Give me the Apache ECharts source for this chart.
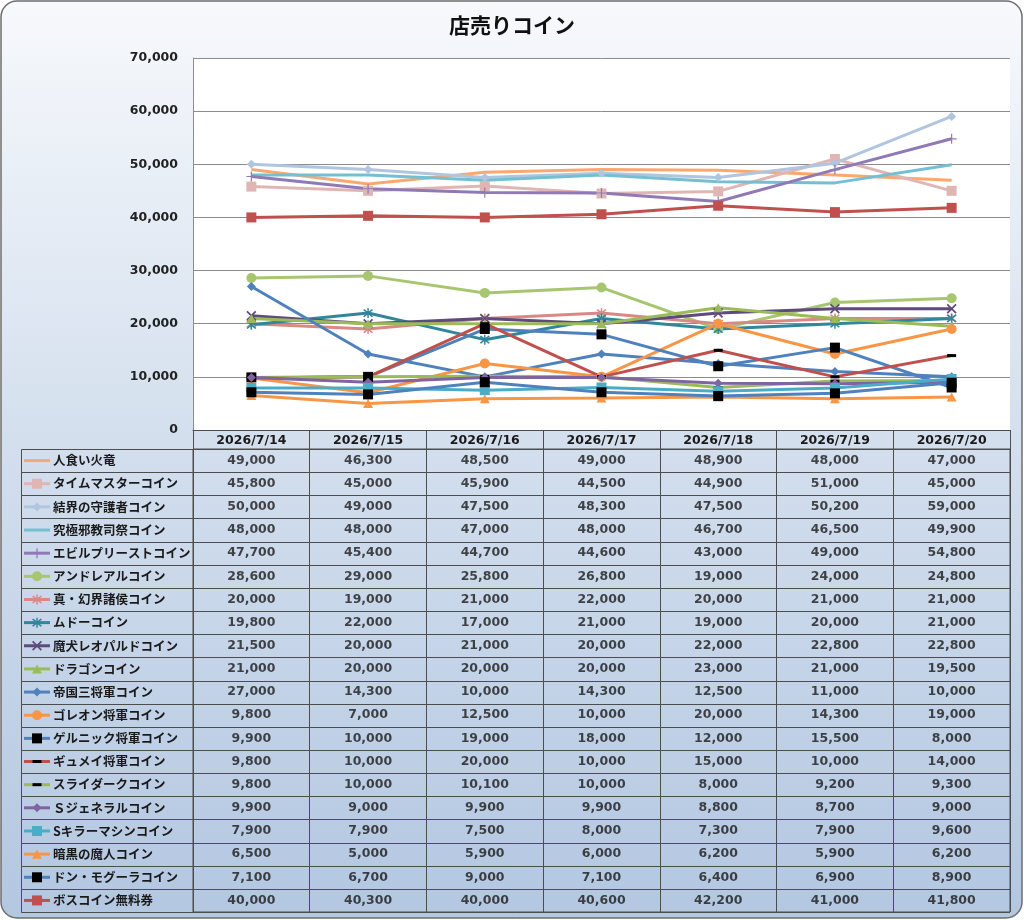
<!DOCTYPE html>
<html>
<head>
<meta charset="utf-8">
<title>店売りコイン</title>
<script src="https://cdn.jsdelivr.net/npm/echarts@6/dist/echarts.min.js"></script>
<style>
  html, body { margin: 0; padding: 0; background: #fff; }
  #main { width: 1024px; height: 920px; }
</style>
</head>
<body>
<div id="main"></div>
<script>
// 日付（表の見出し）
var dates = ['2026/7/14', '2026/7/15', '2026/7/16', '2026/7/17', '2026/7/18', '2026/7/19', '2026/7/20'];

var coinNames = [
    '人食い火竜', 'タイムマスターコイン', '結界の守護者コイン', '究極邪教司祭コイン',
    'エビルプリーストコイン', 'アンドレアルコイン', '真・幻界諸侯コイン', 'ムドーコイン',
    '魔犬レオパルドコイン', 'ドラゴンコイン', '帝国三将軍コイン', 'ゴレオン将軍コイン',
    'ゲルニック将軍コイン', 'ギュメイ将軍コイン', 'スライダークコイン', 'Ｓジェネラルコイン',
    'Sキラーマシンコイン', '暗黒の魔人コイン', 'ドン・モグーラコイン', 'ボスコイン無料券'
];

// 各コインの売値
var hitokuiKaryu     = [49000, 46300, 48500, 49000, 48900, 48000, 47000];
var timeMaster       = [45800, 45000, 45900, 44500, 44900, 51000, 45000];
var kekkaiShugosha   = [50000, 49000, 47500, 48300, 47500, 50200, 59000];
var kyukyokuJakyo    = [48000, 48000, 47000, 48000, 46700, 46500, 49900];
var evilPriest       = [47700, 45400, 44700, 44600, 43000, 49000, 54800];
var andreal          = [28600, 29000, 25800, 26800, 19000, 24000, 24800];
var genkaiShoko      = [20000, 19000, 21000, 22000, 20000, 21000, 21000];
var mudo             = [19800, 22000, 17000, 21000, 19000, 20000, 21000];
var makenLeopald     = [21500, 20000, 21000, 20000, 22000, 22800, 22800];
var dragon           = [21000, 20000, 20000, 20000, 23000, 21000, 19500];
var teikokuSanshogun = [27000, 14300, 10000, 14300, 12500, 11000, 10000];
var goleon           = [9800, 7000, 12500, 10000, 20000, 14300, 19000];
var gelnic           = [9900, 10000, 19000, 18000, 12000, 15500, 8000];
var gyumei           = [9800, 10000, 20000, 10000, 15000, 10000, 14000];
var slidark          = [9800, 10000, 10100, 10000, 8000, 9200, 9300];
var sGeneral         = [9900, 9000, 9900, 9900, 8800, 8700, 9000];
var sKillerMachine   = [7900, 7900, 7500, 8000, 7300, 7900, 9600];
var ankokuMajin      = [6500, 5000, 5900, 6000, 6200, 5900, 6200];
var donMogura        = [7100, 6700, 9000, 7100, 6400, 6900, 8900];
var bossTicket       = [40000, 40300, 40000, 40600, 42200, 41000, 41800];

var coinValues = [
    hitokuiKaryu, timeMaster, kekkaiShugosha, kyukyokuJakyo, evilPriest,
    andreal, genkaiShoko, mudo, makenLeopald, dragon,
    teikokuSanshogun, goleon, gelnic, gyumei, slidark,
    sGeneral, sKillerMachine, ankokuMajin, donMogura, bossTicket
];

// 見た目（線の色・マーカー）
var lineColors = [
    '#f9a86f', '#e0b6b5', '#b0c5e0', '#74bfd2', '#8f7ab6',
    '#a8c66f', '#d98886', '#31859c', '#5f4a7d', '#9bbb59',
    '#4f81bd', '#f79646', '#4f81bd', '#c0504d', '#9bbb59',
    '#8064a2', '#4bacc6', '#f79646', '#4f81bd', '#c0504d'
];
var markerColors = [
    '#f9a86f', '#e0b6b5', '#b0c5e0', '#74bfd2', '#8f7ab6',
    '#a8c66f', '#d98886', '#31859c', '#5f4a7d', '#9bbb59',
    '#4f81bd', '#f79646', '#000000', '#000000', '#000000',
    '#8064a2', '#4bacc6', '#f79646', '#000000', '#c0504d'
];
var markerKinds = [
    'none', 'rect', 'diamond', 'none', 'plus',
    'circle', 'star', 'star', 'cross', 'triangle',
    'diamond', 'circle', 'rect', 'dash', 'dash',
    'diamond', 'rect', 'triangle', 'rect', 'rect'
];

var PATHS = {
    rect: 'M0,0H10V10H0Z',
    diamond: 'M5,0L10,5L5,10L0,5Z',
    triangle: 'M5,0L10,10L0,10Z',
    plus: 'M4.4,0H5.6V4.4H10V5.6H5.6V10H4.4V5.6H0V4.4H4.4Z',
    cross: 'M0.9,1.9L1.9,0.9L9.1,8.1L8.1,9.1Z M8.1,0.9L9.1,1.9L1.9,9.1L0.9,8.1Z',
    star: 'M4.4,0H5.6V10H4.4Z M0.9,1.9L1.9,0.9L9.1,8.1L8.1,9.1Z M8.1,0.9L9.1,1.9L1.9,9.1L0.9,8.1Z',
    dash: 'M0,0H10V10H0Z'
};
var SIZES = {
    rect: [10, 10], diamond: [9, 9], triangle: [10, 9], plus: [10, 10],
    cross: [10, 10], star: [10, 10], dash: [9, 3], circle: [10, 10]
};

var BORDER = '#4d4d4d';
var TEXT = '#1a1a1a';
var NUM_FONT = 'DejaVu Sans';
var JP_FONT = '"Noto Sans CJK JP", sans-serif';

function fmt(v) {
    return v.toLocaleString('en-US');
}

var myChart = echarts.init(document.getElementById('main'));

var lineSeries = coinValues.map(function (vals, i) {
    var kind = markerKinds[i];
    return {
        name: coinNames[i],
        type: 'line',
        xAxisIndex: 0,
        yAxisIndex: 0,
        data: vals,
        symbol: kind === 'none' ? 'none' : (kind === 'circle' ? 'circle' : 'path://' + PATHS[kind]),
        symbolSize: SIZES[kind] || 0,
        showSymbol: kind !== 'none',
        lineStyle: { color: lineColors[i], width: 3 },
        itemStyle: { color: markerColors[i] },
        emphasis: { disabled: true },
        silent: true,
        animation: false
    };
});

// 表のセル
var cellData = [];
coinValues.forEach(function (vals, r) {
    vals.forEach(function (v, c) {
        cellData.push([c, r, v]);
    });
});

function keyMarker(kind, cx, cy, color) {
    if (kind === 'none') return null;
    var sz = SIZES[kind];
    if (kind === 'circle') {
        return { type: 'circle', shape: { cx: cx, cy: cy, r: sz[0] / 2 }, style: { fill: color } };
    }
    return {
        type: 'path',
        shape: {
            pathData: PATHS[kind],
            x: cx - sz[0] / 2, y: cy - sz[1] / 2,
            width: sz[0], height: sz[1],
            layout: 'cover'
        },
        style: { fill: color }
    };
}

var option = {
    animation: false,
    textStyle: { fontFamily: JP_FONT },
    graphic: [{
        type: 'rect',
        z: -10,
        silent: true,
        shape: { x: 1, y: 1, width: 1021, height: 917, r: 16 },
        style: {
            fill: new echarts.graphic.LinearGradient(0, 0, 0, 1, [
                { offset: 0, color: '#f7f9fc' },
                { offset: 0.5, color: '#d2deed' },
                { offset: 1, color: '#b3c7e1' }
            ]),
            stroke: '#6e6e6e',
            lineWidth: 1.5
        }
    }],
    title: {
        text: '店売りコイン',
        left: 'center',
        top: 10,
        textStyle: { fontSize: 21, fontWeight: 'bold', color: '#111', fontFamily: JP_FONT }
    },
    grid: [
        { left: 193, right: 14, top: 58, height: 372, show: true, backgroundColor: '#ffffff', borderWidth: 0 },
        { left: 193, right: 14, top: 449, bottom: 8, show: true, backgroundColor: 'transparent', borderColor: BORDER, borderWidth: 1 }
    ],
    xAxis: [{
        type: 'category',
        gridIndex: 0,
        data: dates,
        boundaryGap: true,
        axisLine: { show: true, lineStyle: { color: BORDER, width: 1 } },
        axisTick: { show: true, interval: 0, length: 19, inside: false, lineStyle: { color: BORDER } },
        axisLabel: { interval: 0, margin: 4, fontSize: 12.5, fontWeight: 'bold', color: TEXT, fontFamily: NUM_FONT },
        splitLine: { show: false }
    }, {
        type: 'category',
        gridIndex: 1,
        data: dates,
        boundaryGap: true,
        axisLine: { show: false },
        axisTick: { show: false, interval: 0 },
        axisLabel: { show: false, interval: 0 },
        splitLine: { show: true, interval: 0, lineStyle: { color: BORDER, width: 1 } }
    }],
    yAxis: [{
        type: 'value',
        gridIndex: 0,
        min: 0,
        max: 70000,
        interval: 10000,
        axisLine: { show: true, lineStyle: { color: '#8c8c8c' } },
        axisTick: { show: false },
        axisLabel: {
            margin: 15, fontSize: 12.5, fontWeight: 'bold', color: '#222', fontFamily: NUM_FONT,
            formatter: function (v) { return fmt(v); }
        },
        splitLine: { show: true, lineStyle: { color: '#8c8c8c', width: 1 } }
    }, {
        type: 'category',
        gridIndex: 1,
        data: coinNames,
        inverse: true,
        boundaryGap: true,
        axisLine: { show: false },
        axisTick: { show: false, interval: 0 },
        axisLabel: { show: false, interval: 0 },
        splitLine: { show: false }
    }],
    series: lineSeries.concat([{
        name: 'cells',
        type: 'scatter',
        xAxisIndex: 1,
        yAxisIndex: 1,
        data: cellData,
        symbolSize: 1,
        itemStyle: { color: 'rgba(0,0,0,0)' },
        silent: true,
        label: {
            show: true,
            position: 'inside',
            fontSize: 12.5,
            fontWeight: 'bold',
            color: TEXT,
            fontFamily: NUM_FONT,
            formatter: function (p) { return fmt(p.value[2]); }
        }
    }, {
        // 凡例列と行の罫線
        name: 'keys',
        type: 'custom',
        xAxisIndex: 1,
        yAxisIndex: 1,
        clip: false,
        silent: true,
        data: coinNames.map(function (n, i) { return [0, i]; }),
        renderItem: function (params, api) {
            var idx = api.value(1);
            var cs = params.coordSys;
            var pt = api.coord([0, idx]);
            var h = api.size([0, 1])[1];
            var cy = pt[1];
            var top = Math.round(cy - h / 2) + 0.5;
            var bottom = Math.round(cy + h / 2) + 0.5;
            var rightEdge = cs.x + cs.width;
            var children = [{
                type: 'line',
                shape: { x1: 21.5, y1: top, x2: rightEdge, y2: top },
                style: { stroke: BORDER, lineWidth: 1 }
            }, {
                type: 'line',
                shape: { x1: 21.5, y1: bottom, x2: rightEdge, y2: bottom },
                style: { stroke: BORDER, lineWidth: 1 }
            }, {
                type: 'line',
                shape: { x1: 21.5, y1: top, x2: 21.5, y2: bottom },
                style: { stroke: BORDER, lineWidth: 1 }
            }, {
                type: 'line',
                shape: { x1: 24, y1: cy, x2: 50, y2: cy },
                style: { stroke: lineColors[idx], lineWidth: 3 }
            }];
            var mk = keyMarker(markerKinds[idx], 37, cy, markerColors[idx]);
            if (mk) children.push(mk);
            children.push({
                type: 'text',
                style: {
                    text: coinNames[idx],
                    x: 53, y: cy,
                    verticalAlign: 'middle',
                    align: 'left',
                    fontSize: 12.5,
                    fontWeight: 'bold',
                    fontFamily: JP_FONT,
                    fill: TEXT
                }
            });
            return { type: 'group', children: children };
        }
    }])
};

myChart.setOption(option);

window.onresize = function () {
    myChart.resize();
};
</script>
</body>
</html>
